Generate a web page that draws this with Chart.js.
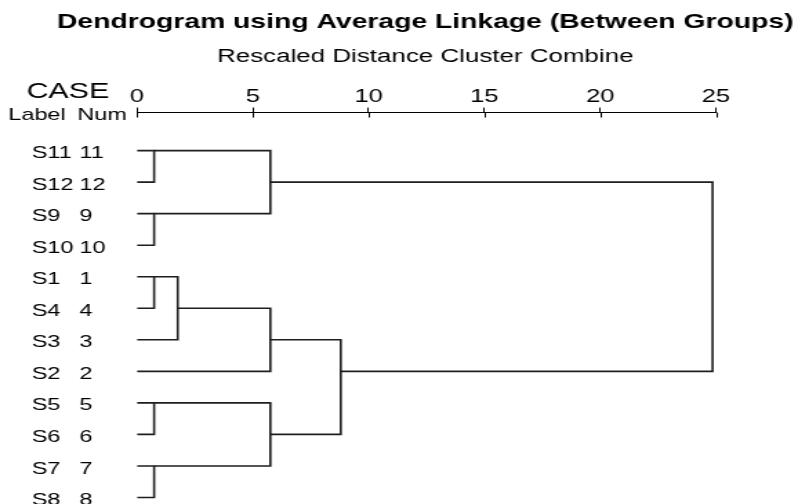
<!DOCTYPE html>
<html><head><meta charset="utf-8">
<script src="https://cdn.jsdelivr.net/npm/chart.js@4"></script>
<style>
html,body{margin:0;padding:0;background:#fff;overflow:hidden}
#wrap{width:798px;height:504px;overflow:hidden}
canvas{display:block;transform:scaleX(1.380623);transform-origin:0 0}
</style></head>
<body><div id="wrap"><canvas id="c" width="578" height="504"></canvas></div>
<script>
// ---- data ----
const titleText = 'Dendrogram using Average Linkage (Between Groups)';
const subtitleText = 'Rescaled Distance Cluster Combine';
const caseHeader = 'CASE';
const labelHeader = 'Label';
const numHeader = 'Num';
const caseLabels = ['S11','S12','S9','S10','S1','S4','S3','S2','S5','S6','S7','S8'];
const caseNums = [11,12,9,10,1,4,3,2,5,6,7,8];
const xTicks = [0,5,10,15,20,25];
// merges in order; leaves are nodes 0-11 (row order), merge k creates node 12+k
const mergeLeft  = [0,2,4,8,10,14,12,17,15,19,18];
const mergeRight = [1,3,5,9,11,6,13,7,16,20,21];
const mergeDistance = [0.74,0.74,0.74,0.74,0.74,1.76,5.76,5.76,5.76,8.8,24.85];

// ---- build segments ----
const nodeRow = caseLabels.map((_, i) => i);
const nodeX = caseLabels.map(() => 0);
const datasets = [];
mergeLeft.forEach((a, k) => {
  const b = mergeRight[k], d = mergeDistance[k];
  const ra = nodeRow[a], rb = nodeRow[b];
  datasets.push({
    data: [{x: nodeX[a], y: ra}, {x: d, y: ra}, {x: d, y: rb}, {x: nodeX[b], y: rb}],
    borderColor: '#1e1e1e', borderWidth: 1.6, pointRadius: 0, tension: 0, fill: false
  });
  nodeRow.push(Math.floor((ra + rb) / 2));
  nodeX.push(d);
});

const FONT = "'Liberation Sans', Arial, sans-serif";
Chart.defaults.font.family = FONT;

const textPlugin = {
  id: 'caseText',
  afterDraw(chart) {
    const ctx = chart.ctx, ys = chart.scales.y, xs = chart.scales.x, top = chart.chartArea.top;
    ctx.save();
    // lower halves of tick marks
    ctx.strokeStyle = '#000'; ctx.lineWidth = 1;
    xTicks.forEach(v => {
      const px = Math.round(xs.getPixelForValue(v)) + 0.5;
      ctx.beginPath(); ctx.moveTo(px, top); ctx.lineTo(px, top + 5); ctx.stroke();
    });
    ctx.fillStyle = '#000';
    ctx.textBaseline = 'alphabetic';
    ctx.textAlign = 'left';
    ctx.font = '22px ' + FONT;
    ctx.fillText(caseHeader, 19.2, 98.3);
    ctx.font = '17px ' + FONT;
    ctx.fillText(labelHeader, 6, 120);
    ctx.fillText(numHeader, 56, 120);
    ctx.font = '17px ' + FONT;
    caseLabels.forEach((lab, i) => {
      const y = ys.getPixelForValue(i) + 7.6;
      ctx.fillText(lab, 23, y);
      ctx.fillText(String(caseNums[i]), 57.5, y);
    });
    ctx.restore();
  }
};

const hiddenAxis = (pos, w) => ({
  type: 'linear', position: pos, display: true,
  afterFit: s => { s.width = w; },
  ticks: { display: false }, grid: { display: false }, border: { display: false }
});

const yAxis = hiddenAxis('left', 61.2);
yAxis.reverse = true; yAxis.min = -1.2063; yAxis.max = 11.2063;

new Chart(document.getElementById('c'), {
  type: 'line',
  data: { datasets },
  plugins: [textPlugin],
  options: {
    responsive: false,
    animation: false,
    devicePixelRatio: 1,
    layout: { padding: { left: 38, right: 0, top: 0, bottom: 0 } },
    plugins: {
      legend: { display: false },
      tooltip: { enabled: false },
      title: { display: true, text: titleText, color: '#000',
        font: { size: 20.5, weight: 'bold', family: FONT }, padding: { top: 10, bottom: 0 } },
      subtitle: { display: true, text: subtitleText, color: '#000',
        font: { size: 18.8, family: FONT }, padding: { top: 11, bottom: 17.2 } }
    },
    scales: {
      x: {
        type: 'linear', position: 'top', min: 0, max: 25,
        afterBuildTicks: s => { s.ticks = xTicks.map(v => ({ value: v })); },
        ticks: { color: '#000', font: { size: 18.5, family: FONT }, padding: 0, maxRotation: 0 },
        grid: { drawOnChartArea: false, drawTicks: true, tickLength: 5, color: '#000', tickWidth: 1 },
        border: { display: true, color: '#000', width: 1 }
      },
      y: yAxis,
      yRight: hiddenAxis('right', 59.4)
    }
  }
});
</script>
</body></html>
